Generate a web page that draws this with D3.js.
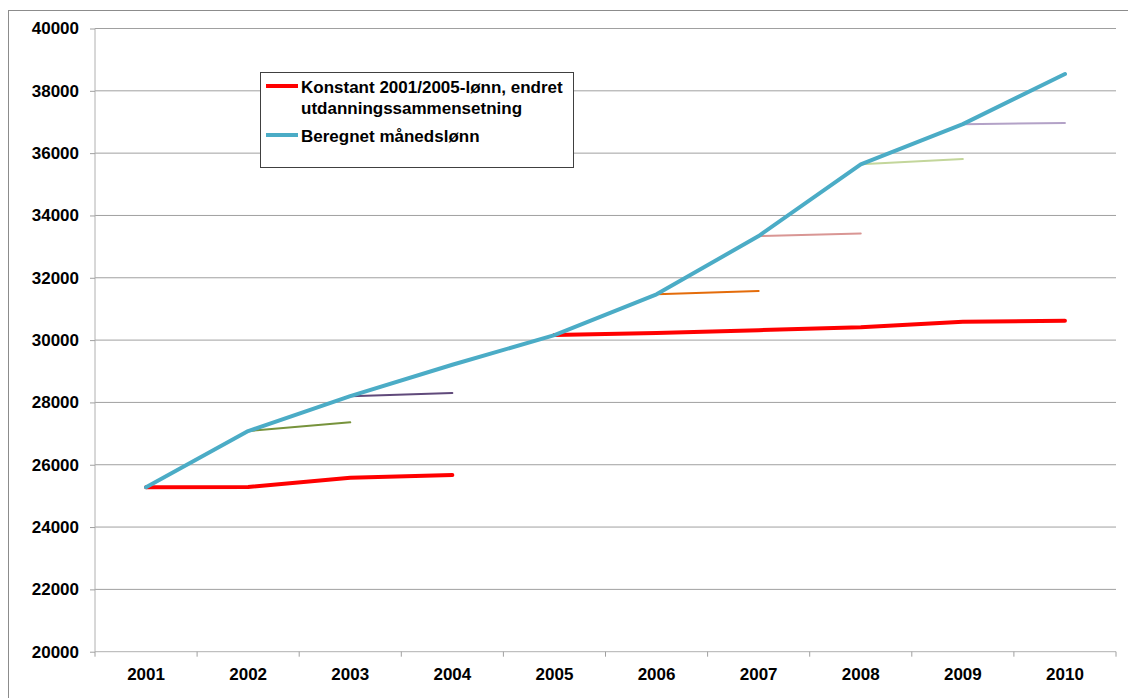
<!DOCTYPE html>
<html>
<head>
<meta charset="utf-8">
<script src="https://cdn.jsdelivr.net/npm/d3@7"></script>
<style>
  html, body { margin: 0; padding: 0; background: #fff; }
  svg { display: block; }
  text { font-family: "Liberation Sans", Arial, Helvetica, sans-serif; font-weight: bold; fill: #000; }
</style>
</head>
<body>
<svg id="chart" width="1128" height="698"></svg>
<script>
// ---- Data ----
const years = ["2001","2002","2003","2004","2005","2006","2007","2008","2009","2010"];
const yTicks = [20000,22000,24000,26000,28000,30000,32000,34000,36000,38000,40000];

// Beregnet månedslønn
const beregnet = [25280, 27080, 28200, 29210, 30160, 31470, 33340, 35640, 36930, 38540];

// Konstant 2001-lønn (2001-2004) and konstant 2005-lønn (2005-2010)
const konstant2001Years = ["2001","2002","2003","2004"];
const konstant2001 = [25280, 25285, 25580, 25670];
const konstant2005Years = ["2005","2006","2007","2008","2009","2010"];
const konstant2005 = [30160, 30230, 30320, 30410, 30590, 30620];

// Short one-year series from each year's calculated wage
const shortYears = [["2002","2003"],["2003","2004"],["2006","2007"],["2007","2008"],["2008","2009"],["2009","2010"]];
const shortValues = [[27080, 27360],[28200, 28300],[31470, 31575],[33340, 33420],[35640, 35810],[36930, 36965]];
const shortColors = ["#77933C", "#604A7B", "#E46C0A", "#D99694", "#C3D69B", "#B3A2C7"];

const legendLabels = [["Konstant 2001/2005-lønn, endret", "utdanningssammensetning"], ["Beregnet månedslønn"]];
const redColor = "#FF0000";
const blueColor = "#4BACC6";

(function () {
// ---- Layout ----
const svg = d3.select("#chart");
const pLeft = 95, pRight = 1116, pTop = 28.5, pBottom = 651.7;
const fontSize = "17px";

// outer frame
svg.append("rect").attr("x", 8.5).attr("y", 10.5).attr("width", 1130).attr("height", 700)
  .attr("fill", "none").attr("stroke", "#8c8c8c").attr("stroke-width", 1);

const x = d3.scaleBand().domain(years).range([pLeft, pRight]).padding(0);
const xc = d => x(d) + x.bandwidth() / 2;
const y = d3.scaleLinear().domain([20000, 40000]).range([pBottom, pTop]);

// gridlines
svg.append("g").selectAll("line").data(yTicks.slice(1)).join("line")
  .attr("x1", pLeft).attr("x2", pRight)
  .attr("y1", d => y(d)).attr("y2", d => y(d))
  .attr("stroke", "#a0a0a0").attr("stroke-width", 1);

// Y axis
const yAxis = d3.axisLeft(y).tickValues(yTicks).tickSize(5).tickPadding(11).tickFormat(d3.format("d"));
const gy = svg.append("g").attr("transform", `translate(${pLeft},0)`).call(yAxis);
gy.select(".domain").attr("stroke", "#b0b0b0").attr("d", `M0,${pTop}V${pBottom}`);
gy.selectAll(".tick line").attr("stroke", "#a0a0a0");
gy.selectAll(".tick text").style("font-size", fontSize).style("font-weight", "bold")
  .style("font-family", "'Liberation Sans', Arial, sans-serif").attr("fill", "#000");

// X axis
const xAxis = d3.axisBottom(x).tickSize(0).tickPadding(16);
const gx = svg.append("g").attr("transform", `translate(0,${pBottom})`).call(xAxis);
gx.select(".domain").attr("stroke", "#b0b0b0").attr("d", `M${pLeft},0H${pRight}`);
gx.selectAll(".tick text").style("font-size", fontSize).style("font-weight", "bold")
  .style("font-family", "'Liberation Sans', Arial, sans-serif").attr("fill", "#000");
// boundary ticks between categories
const bounds = years.map(d => x(d)).concat([pRight]);
gx.append("g").selectAll("line").data(bounds).join("line")
  .attr("x1", d => d).attr("x2", d => d).attr("y1", 0).attr("y2", 5)
  .attr("stroke", "#a0a0a0");

const line = d3.line().x(d => xc(d[0])).y(d => y(d[1]));

// red konstant lines
[[konstant2001Years, konstant2001], [konstant2005Years, konstant2005]].forEach(([ys, vs]) => {
  svg.append("path").attr("d", line(ys.map((yr, i) => [yr, vs[i]])))
    .attr("fill", "none").attr("stroke", redColor).attr("stroke-width", 4)
    .attr("stroke-linejoin", "round").attr("stroke-linecap", "round");
});

// short series
shortYears.forEach((ys, k) => {
  svg.append("path").attr("d", line(ys.map((yr, i) => [yr, shortValues[k][i]])))
    .attr("fill", "none").attr("stroke", shortColors[k]).attr("stroke-width", 2)
    .attr("stroke-linecap", "round");
});

// blue
svg.append("path").attr("d", line(years.map((yr, i) => [yr, beregnet[i]])))
  .attr("fill", "none").attr("stroke", blueColor).attr("stroke-width", 4)
  .attr("stroke-linejoin", "round").attr("stroke-linecap", "round");

// legend
const lg = svg.append("g");
lg.append("rect").attr("x", 260.5).attr("y", 72.5).attr("width", 313).attr("height", 95)
  .attr("fill", "#fff").attr("stroke", "#404040").attr("stroke-width", 1);
const legendColors = [redColor, blueColor];
const legendLineY = [86, 135];
const legendBase = [[92.5, 113.5], [141.5]];
legendLabels.forEach((lines, i) => {
  lg.append("line").attr("x1", 266).attr("x2", 298).attr("y1", legendLineY[i]).attr("y2", legendLineY[i])
    .attr("stroke", legendColors[i]).attr("stroke-width", 4);
  lines.forEach((t, j) => {
    lg.append("text").attr("x", 301).attr("y", legendBase[i][j]).style("font-size", fontSize).text(t);
  });
});
})();
</script>
</body>
</html>
